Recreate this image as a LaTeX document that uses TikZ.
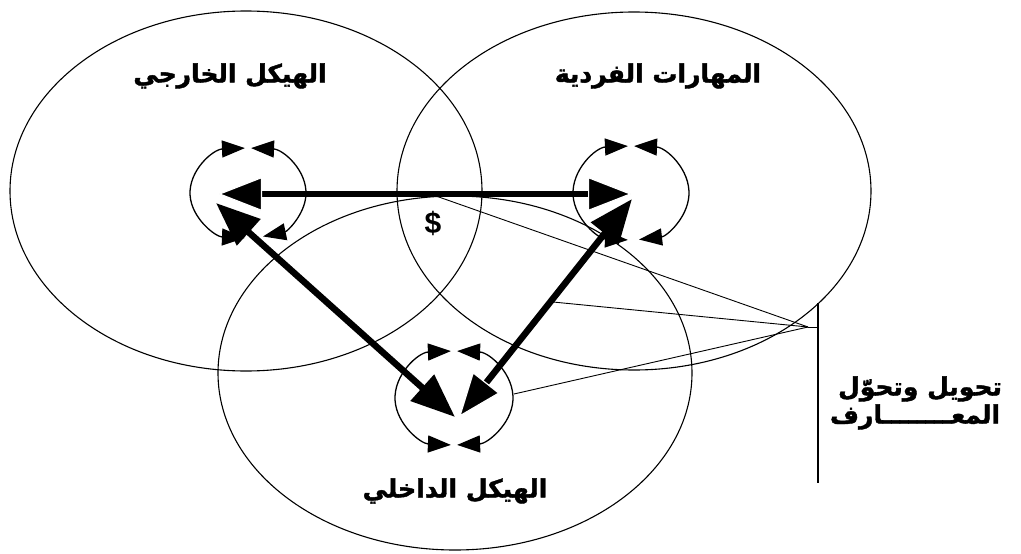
\documentclass[tikz,border=0pt]{standalone}
\usepackage{fontspec}
\setmainfont{Liberation Sans}
\newfontfamily\arabicfont[Script=Arabic,BoldFont={DejaVu Sans Bold},BoldFeatures={FakeBold=1.6}]{DejaVu Sans}
\TeXXeTstate=1
\usetikzlibrary{arrows.meta,shapes.geometric,calc}
\begin{document}
\begin{tikzpicture}[x=1pt,y=-1pt,
  bigell/.style={draw, ellipse, line width=1.1pt, inner sep=0pt, outer sep=0pt},
  cyc/.style={line width=1.3pt, {Triangle[length=23pt,width=17pt]}-{Triangle[length=23pt,width=17pt]}},
  thickarr/.style={line width=6.5pt},
  headA/.tip={Triangle[length=44pt,width=34pt]},
  headB/.tip={Triangle[length=44pt,width=34pt,color=white,fill=black,line width=1.2pt]},
  thin/.style={line width=0.9pt},
  lbl/.style={font=\arabicfont\bfseries\fontsize{25}{28}\selectfont, inner sep=0pt}
]
\useasboundingbox (0,0) rectangle (1021,554);
\fill[white] (0,0) rectangle (1021,554);

% big ellipses
\node[bigell, minimum width=472pt, minimum height=360pt] (EL) at (246,191) {};
\node[bigell, minimum width=474pt, minimum height=358pt] (ER) at (634,191) {};
\node[bigell, minimum width=474pt, minimum height=354pt] (EB) at (455,373) {};

% cycle centres
\coordinate (cL) at (248,193);
\coordinate (cR) at (631,193);
\coordinate (cB) at (454,398);

% left cycle
\draw[cyc] ($(cL)+(-93:58 and 45)$) arc[start angle=-93, end angle=-267, x radius=58, y radius=45];
\draw[cyc] ($(cL)+(-87:58 and 45)$) arc[start angle=-87, end angle=75, x radius=58, y radius=45];
% right cycle
\draw[cyc] ($(cR)+(-93:58 and 47)$) arc[start angle=-93, end angle=-267, x radius=58, y radius=47];
\draw[cyc] ($(cR)+(-87:58 and 47)$) arc[start angle=-87, end angle=82, x radius=58, y radius=47];
% bottom cycle
\draw[cyc] ($(cB)+(-93:59 and 47)$) arc[start angle=-93, end angle=-267, x radius=59, y radius=47];
\draw[cyc] ($(cB)+(-87:59 and 47)$) arc[start angle=-87, end angle=87, x radius=59, y radius=47];

% thin connector lines
\coordinate (s1) at (436,196);
\coordinate (s2) at (553,302);
\coordinate (s3) at (514,394);
\coordinate (conv) at (808,327);
\coordinate (vj) at (818,327);
\coordinate (vt) at (818,303);
\coordinate (vb) at (818,483);
\draw[thin] (s1) -- (conv);
\draw[thin] (s2) -- (conv);
\draw[thin] (s3) -- (conv);
\draw[thin] (conv) -- (vj);
\draw[line width=1.3pt] (vt) -- (vb);

% thick arrows
\coordinate (hL) at (218,194);
\coordinate (hR) at (632,194);
\coordinate (dLt) at (216,203);
\coordinate (dLb) at (455,417);
\coordinate (dRt) at (632,199);
\coordinate (dRb) at (459,417);
\draw[thickarr, {headA}-{headA}] (dLt) -- (dLb);
\draw[thickarr, {headA}-{headB}] (dRt) -- (dRb);
\draw[thickarr, {headB}-{headB}] (hL) -- (hR);

% labels
\node[lbl] (t1) at (230,76) {\beginR الهيكل الخارجي\endR};
\node[lbl] (t2) at (658,76) {\beginR المهارات الفردية\endR};
\node[lbl] (t3) at (455,491) {\beginR الهيكل الداخلي\endR};
\node[lbl] (t4) at (920,389) {\beginR تحويل وتحوّل\endR};
\node[lbl] (t5) at (915,417) {\beginR المعــــــــارف\endR};
\node[font=\bfseries\fontsize{30}{32}\selectfont, inner sep=0pt] (dol) at (433,223) {\$};
\end{tikzpicture}
\end{document}
